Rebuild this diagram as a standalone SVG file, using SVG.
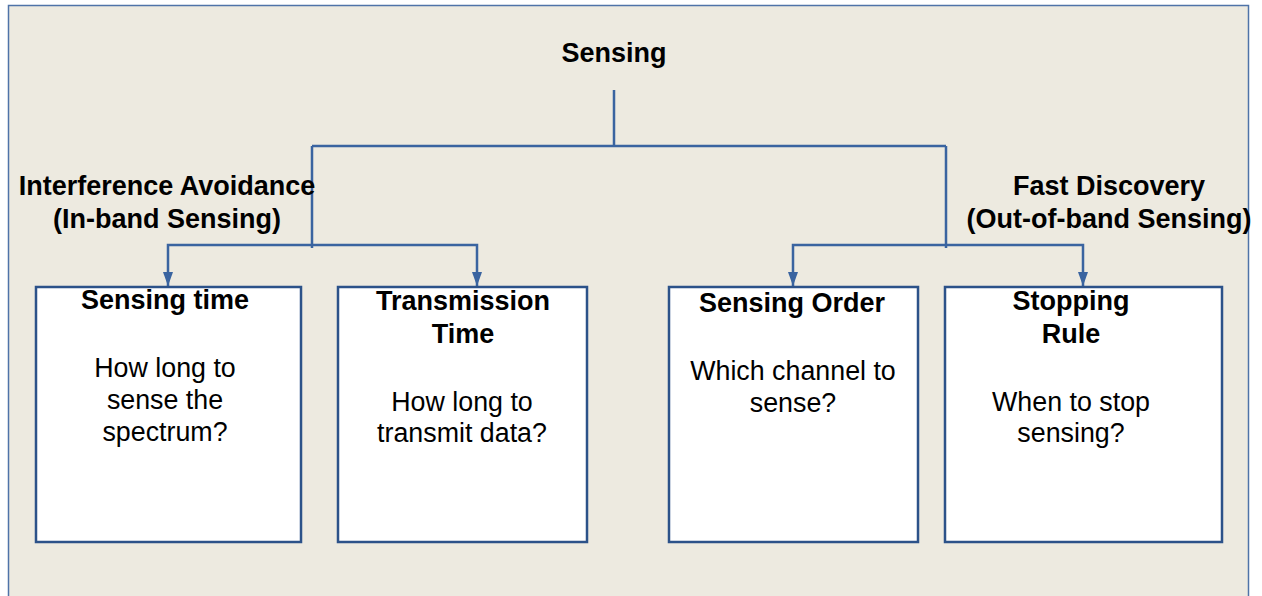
<svg xmlns="http://www.w3.org/2000/svg" width="1262" height="596" viewBox="0 0 1262 596">
<defs>
<style>
.bold{font-family:"Liberation Sans",Arial,sans-serif;font-weight:bold;font-size:27px;fill:#000;text-anchor:middle}
.body{font-family:"Liberation Sans",Arial,sans-serif;font-size:26.8px;fill:#000;text-anchor:middle}
.box{fill:#fff;stroke:#2c5289;stroke-width:2.5}
.conn{fill:none;stroke:#3a64a0;stroke-width:2.5}
</style>
<marker id="arr" viewBox="0 0 14 10" refX="14" refY="5" markerWidth="14" markerHeight="10" markerUnits="userSpaceOnUse" orient="auto">
<path d="M0,0 L14,5 L0,10 Z" fill="#3a64a0"/>
</marker>
</defs>
<rect x="0" y="0" width="1262" height="596" fill="#fff"/>
<rect x="8.5" y="5.5" width="1240" height="600" fill="#edeae0" stroke="#4f73a8" stroke-width="1.5"/>

<g id="connectors">
<path class="conn" d="M614,90 V146 M312,146 H946 M312,146 V248 M946,146 V248"/>
<path class="conn" d="M312,245 H168 V286" marker-end="url(#arr)"/>
<path class="conn" d="M312,245 H477 V286" marker-end="url(#arr)"/>
<path class="conn" d="M946,245 H793 V286" marker-end="url(#arr)"/>
<path class="conn" d="M946,245 H1083 V286" marker-end="url(#arr)"/>
</g>

<g id="root">
<text class="bold" x="614" y="62">Sensing</text>
</g>
<g id="label-left">
<text class="bold" x="167" y="195">Interference Avoidance</text>
<text class="bold" x="167" y="228">(In-band Sensing)</text>
</g>
<g id="label-right">
<text class="bold" x="1109" y="195">Fast Discovery</text>
<text class="bold" x="1109" y="228">(Out-of-band Sensing)</text>
</g>

<g id="node-sensing-time">
<rect class="box" x="36" y="287" width="265" height="255"/>
<text class="bold" x="165" y="309">Sensing time</text>
<text class="body" x="165" y="377">How long to</text>
<text class="body" x="165" y="409">sense the</text>
<text class="body" x="165" y="441">spectrum?</text>
</g>
<g id="node-transmission-time">
<rect class="box" x="338" y="287" width="249" height="255"/>
<text class="bold" x="463" y="310">Transmission</text>
<text class="bold" x="463" y="343">Time</text>
<text class="body" x="462" y="411">How long to</text>
<text class="body" x="462" y="442">transmit data?</text>
</g>
<g id="node-sensing-order">
<rect class="box" x="669" y="287" width="249" height="255"/>
<text class="bold" x="792" y="312">Sensing Order</text>
<text class="body" x="793" y="380">Which channel to</text>
<text class="body" x="793" y="412">sense?</text>
</g>
<g id="node-stopping-rule">
<rect class="box" x="945" y="287" width="277" height="255"/>
<text class="bold" x="1071" y="310">Stopping</text>
<text class="bold" x="1071" y="343">Rule</text>
<text class="body" x="1071" y="411">When to stop</text>
<text class="body" x="1071" y="442">sensing?</text>
</g>
</svg>
